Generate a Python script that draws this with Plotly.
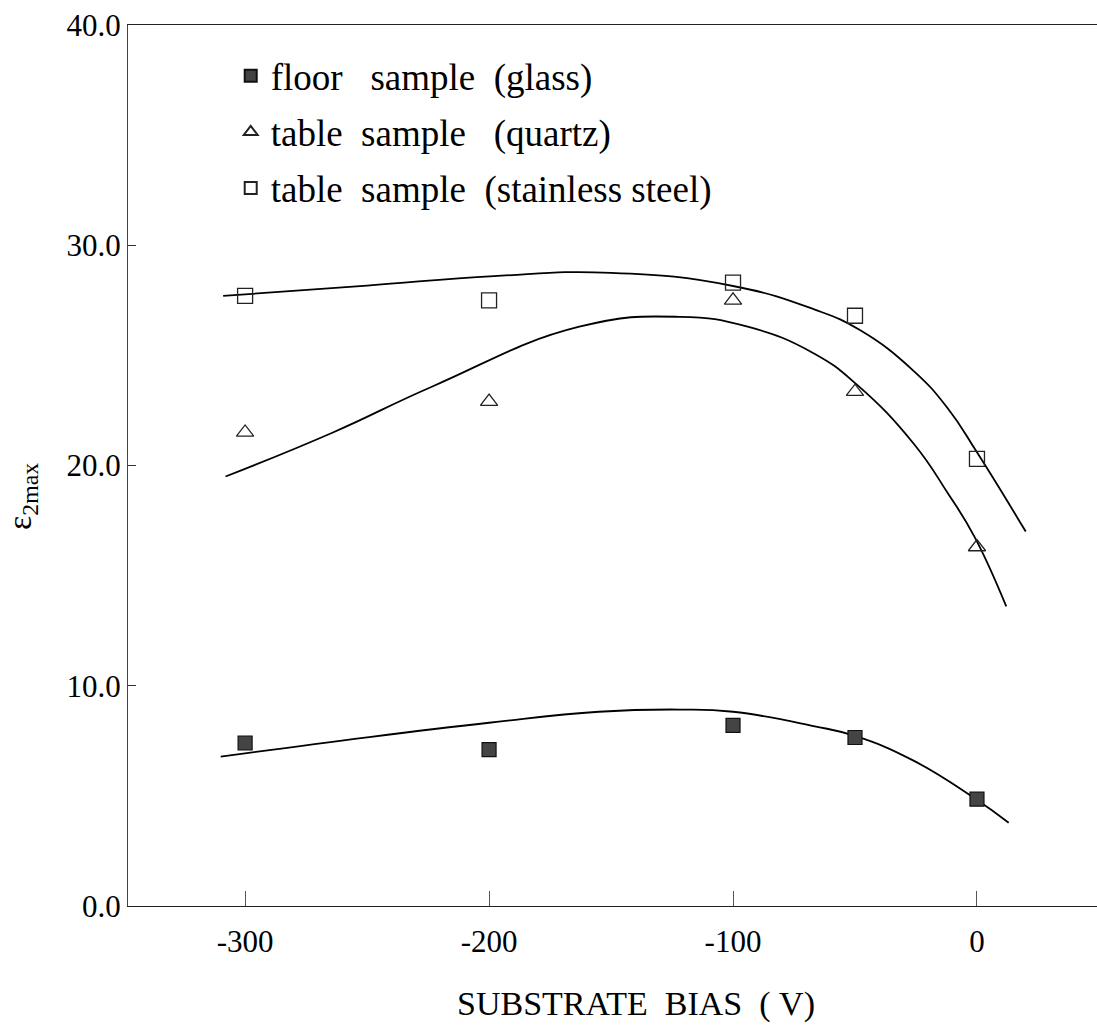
import plotly.graph_objects as go

# ---- data ----
bias = [-300, -200, -100, -50, 0]
floor_glass = [7.4, 7.1, 8.2, 7.65, 4.85]
table_quartz = [21.5, 22.9, 27.5, 23.35, 16.3]
table_steel = [27.7, 27.5, 28.3, 26.8, 20.3]

# fitted guide curves
steel_fit_x = [-309, -250, -198, -150, -100, -67, -48, -26, -12, 0, 20]
steel_fit_y = [27.7, 28.17, 28.6, 28.75, 28.15, 27.1, 26.15, 24.3, 22.6, 20.6, 17.0]
quartz_fit_x = [-308, -264, -223, -163, -122, -94, -67, -49, -26, -12, -1, 12]
quartz_fit_y = [19.5, 21.5, 23.6, 26.3, 26.75, 26.3, 25.1, 23.65, 21.0, 18.75, 16.76, 13.6]
floor_fit_x = [-310, -250, -200, -155, -122, -100, -67, -50, -26, -1, 13]
floor_fit_y = [6.78, 7.66, 8.32, 8.82, 8.92, 8.82, 8.17, 7.72, 6.6, 4.89, 3.78]

x_ticks = [-300, -200, -100, 0]
x_tick_text = ["-300", "-200", "-100", "0"]
y_ticks = [0, 10, 20, 30, 40]
y_tick_text = ["0.0", "10.0", "20.0", "30.0", "40.0"]

FONT = "Liberation Serif, Times New Roman, serif"

fig = go.Figure()

for fx, fy in [(steel_fit_x, steel_fit_y), (quartz_fit_x, quartz_fit_y), (floor_fit_x, floor_fit_y)]:
    fig.add_trace(go.Scatter(x=fx, y=fy, mode="lines",
                             line=dict(color="black", width=1.8, shape="spline", smoothing=1.3),
                             showlegend=False, hoverinfo="skip"))

fig.add_trace(go.Scatter(
    x=bias, y=floor_glass, mode="markers", name="floor\u00a0\u00a0\u00a0sample\u00a0\u00a0(glass)",
    legendgroup="a",
    marker=dict(symbol="square", size=14, color="#444444", line=dict(color="#111111", width=1.2))))
fig.add_trace(go.Scatter(
    x=bias, y=table_quartz, mode="markers", name="table\u00a0\u00a0sample\u00a0\u00a0\u00a0(quartz)",
    legendgroup="b",
    marker=dict(symbol="triangle-up-open", size=15, color="#222222", line=dict(width=1.3))))
fig.add_trace(go.Scatter(
    x=bias, y=table_steel, mode="markers", name="table\u00a0\u00a0sample\u00a0\u00a0(stainless steel)",
    legendgroup="c",
    marker=dict(symbol="square-open", size=15, color="#222222", line=dict(width=1.3))))

fig.update_layout(
    width=1097, height=1025,
    margin=dict(l=128, r=0, t=25, b=119),
    paper_bgcolor="white", plot_bgcolor="white",
    font=dict(family=FONT, color="black", size=31),
    showlegend=True,
    legend=dict(x=0.106, y=0.977, xanchor="left", yanchor="top",
                font=dict(family=FONT, size=37), bgcolor="rgba(0,0,0,0)",
                tracegroupgap=5, traceorder="grouped", itemsizing="constant"),
    xaxis=dict(range=[-348, 49.2], tickvals=x_ticks, ticktext=x_tick_text,
               ticks="inside", ticklen=15, tickwidth=1, tickcolor="#555",
               showline=True, linecolor="#222", linewidth=1.3, mirror=True,
               showgrid=False, zeroline=False, ticklabelstandoff=8,
               tickfont=dict(size=31)),
    yaxis=dict(range=[0, 40], tickvals=y_ticks, ticktext=y_tick_text,
               ticks="inside", ticklen=8, tickwidth=1, tickcolor="#333",
               showline=True, linecolor="#444", linewidth=1.2,
               showgrid=False, zeroline=False, ticklabelstandoff=0,
               tickfont=dict(size=31)),
    annotations=[
        dict(text="SUBSTRATE\u00a0\u00a0BIAS\u00a0\u00a0(\u00a0V)", xref="paper", yref="paper",
             x=(636 - 128) / 969, y=-(1004 - 906) / 881, xanchor="center", yanchor="middle",
             showarrow=False, font=dict(family=FONT, size=34)),
        dict(text="ε<sub>2max</sub>", xref="paper", yref="paper", textangle=-90,
             x=-(128 - 22) / 969, y=(906 - 497) / 881, xanchor="center", yanchor="middle",
             showarrow=False, font=dict(family=FONT, size=34)),
    ],
)

fig.write_html("out.html")
